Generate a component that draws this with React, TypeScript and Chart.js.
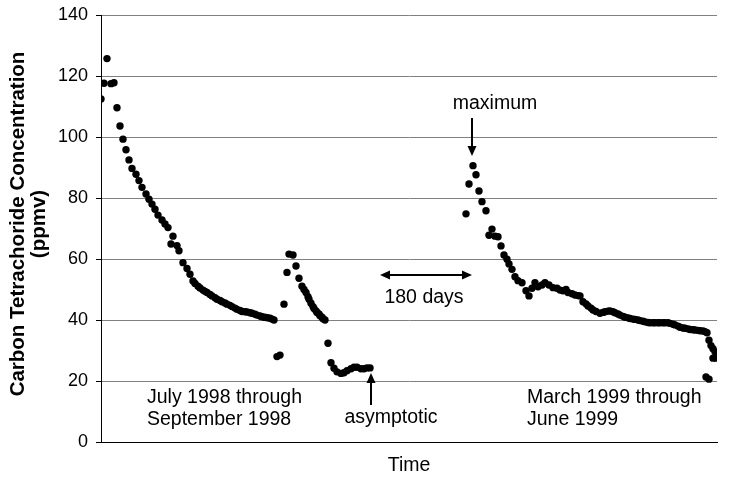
import React, { useEffect, useRef } from "react";
import { Chart, registerables } from "chart.js";

Chart.register(...registerables);

const FONT = "'Liberation Sans', Arial, Helvetica, sans-serif";

// time index (days, relative) and concentration (ppmv)
const seg1T = [0,3,6,10,13,16,19,22,25,28,31,35,38,41,45,48,51,54,57,61,64,67,70,72,76,78,82,86,89,92,94,97,99,102,104,106,109,111,114,116,119,121,124,126,129,131,134,136,139,141,144,146,149,151,154,156,159,161,163,165,167,169,171,173];
const seg1V = [112.5,117.6,125.7,117.5,117.8,109.6,103.6,99.3,95.8,92.5,89.7,87.8,85.7,83.5,81.3,79.6,78.0,76.3,74.4,72.8,71.5,70.3,64.9,67.5,64.4,62.7,58.8,56.9,55.0,52.8,52.0,51.1,50.5,49.8,49.4,49.0,48.4,47.9,47.3,46.8,46.4,46.0,45.6,45.2,44.8,44.4,43.9,43.5,43.1,42.8,42.7,42.6,42.4,42.2,41.9,41.6,41.3,41.1,40.9,40.8,40.7,40.6,40.3,40.0];

const seg2T = [176,179,183,186,188,192,195,198,201,203,205,207,208,210,212,213,215,216,218,219,221,222,224,227,230,233,236,240,243,246,250,253,256,260,263,266,269];
const seg2V = [28.0,28.5,45.2,55.6,61.6,61.3,57.7,53.7,51.1,50.0,49.0,47.6,46.8,45.5,44.4,43.8,43.0,42.5,42.0,41.4,40.9,40.4,40.0,32.4,26.0,24.2,23.0,22.5,22.7,23.4,24.0,24.5,24.5,24.0,24.0,24.3,24.3];

const seg3T = [365,368,372,375,378,381,385,388,391,394,397,400,403,406,408,411,414,417,421,425,428,431,434,437,441,444,448,452,456,459,462,465,467,471,474,477,479,482,485,487,490,492,495,499,502,504,507,509,512,514,517,519,522,524,527,529,532,534,537,539,542,544,547,549,552,554,557,559,562,564,567,569,572,574,577,579,582,584,587,589,592,594,597,599,602,604,606,608,610,612,614];
const seg3V = [74.8,84.6,90.6,87.6,82.3,78.8,75.8,67.8,69.8,67.5,67.3,64.3,61.3,59.9,58.4,56.6,54.2,52.9,52.2,49.6,47.9,50.4,52.2,50.9,51.5,52.2,51.5,50.6,50.4,49.8,49.6,50.0,49.0,48.6,48.2,48.0,47.9,46.0,45.3,44.6,43.9,43.3,42.8,42.2,42.5,42.7,42.9,43.0,42.7,42.4,42.0,41.6,41.2,40.9,40.7,40.5,40.3,40.2,40.0,39.8,39.6,39.4,39.2,39.1,39.1,39.1,39.1,39.1,39.1,39.1,39.1,38.9,38.6,38.4,38.0,37.6,37.4,37.3,37.1,36.9,36.8,36.7,36.6,36.5,36.4,36.2,35.8,33.4,31.6,30.6,29.6];

const seg4T = [605,608,612,615];
const seg4V = [21.3,20.6,27.5,27.5];

const X_MAX = 616;
const Y_MAX = 140;
const Y_STEP = 20;

const yTitle = ["Carbon Tetrachoride Concentration", "(ppmv)"];
const xTitle = "Time";

export default function App() {
  const ref = useRef<HTMLCanvasElement>(null);

  useEffect(() => {
    document.body.style.margin = "0";
    const canvas = ref.current;
    if (!canvas) return;

    const pts = [
      ...seg1T.map((t, i) => ({ x: t, y: seg1V[i] })),
      ...seg2T.map((t, i) => ({ x: t, y: seg2V[i] })),
      ...seg3T.map((t, i) => ({ x: t, y: seg3V[i] })),
      ...seg4T.map((t, i) => ({ x: t, y: seg4V[i] })),
    ];

    const arrowHead = (ctx: CanvasRenderingContext2D, x: number, y: number, ang: number) => {
      const L = 10, W = 4.5;
      ctx.save();
      ctx.translate(x, y);
      ctx.rotate(ang);
      ctx.beginPath();
      ctx.moveTo(0, 0);
      ctx.lineTo(-L, -W);
      ctx.lineTo(-L, W);
      ctx.closePath();
      ctx.fill();
      ctx.restore();
    };

    const annot = {
      id: "annot",
      afterDraw(chart: any) {
        const ctx: CanvasRenderingContext2D = chart.ctx;
        const xs = chart.scales.x, ys = chart.scales.y;
        const px = (v: number) => xs.getPixelForValue(v);
        const py = (v: number) => ys.getPixelForValue(v);
        const ca = chart.chartArea;
        ctx.save();
        ctx.fillStyle = "#000";
        ctx.strokeStyle = "#000";
        ctx.lineWidth = 2;
        ctx.font = `19.5px ${FONT}`;
        ctx.textBaseline = "middle";

        // maximum
        ctx.textAlign = "center";
        ctx.fillText("maximum", px(394), py(111.1));
        let ax = px(371), y1 = py(106.2), y2 = py(93.8);
        ctx.beginPath(); ctx.moveTo(ax, y1); ctx.lineTo(ax, y2 - 8); ctx.stroke();
        arrowHead(ctx, ax, y2, Math.PI / 2);

        // 180 days
        const yd = py(54.75), xl = px(279), xr = px(371);
        ctx.beginPath(); ctx.moveTo(xl + 8, yd); ctx.lineTo(xr - 8, yd); ctx.stroke();
        arrowHead(ctx, xl, yd, Math.PI);
        arrowHead(ctx, xr, yd, 0);
        ctx.fillText("180 days", px(323), py(47.2));

        // asymptotic
        ax = px(270); y1 = py(12.1); y2 = py(22.6);
        ctx.beginPath(); ctx.moveTo(ax, y1); ctx.lineTo(ax, y2 + 8); ctx.stroke();
        arrowHead(ctx, ax, y2, -Math.PI / 2);
        ctx.fillText("asymptotic", px(290), py(7.9));

        // period labels
        ctx.textAlign = "left";
        ctx.fillText("July 1998 through", px(46), py(14.4));
        ctx.fillText("September 1998", px(46), py(7.2));
        ctx.fillText("March 1999 through", px(426), py(14.4));
        ctx.fillText("June 1999", px(426), py(7.2));

        // axis titles
        ctx.textAlign = "center";
        ctx.fillText(xTitle, (ca.left + ca.right) / 2, 466);
        ctx.font = `bold 20.5px ${FONT}`;
        const cy = 224;
        ctx.save();
        ctx.translate(18, cy);
        ctx.rotate(-Math.PI / 2);
        ctx.fillText(yTitle[0], 0, 0);
        ctx.restore();
        ctx.save();
        ctx.translate(39, cy);
        ctx.rotate(-Math.PI / 2);
        ctx.fillText(yTitle[1], 0, 0);
        ctx.restore();
        ctx.restore();
      },
    };

    const chart = new Chart(canvas, {
      type: "scatter",
      data: {
        datasets: [
          {
            data: pts,
            backgroundColor: "#000",
            borderColor: "#000",
            borderWidth: 0,
            pointRadius: 3.7,
            showLine: false,
          },
        ],
      },
      options: {
        animation: false,
        responsive: false,
        devicePixelRatio: 1,
        layout: { padding: { left: 0, right: 28, top: 15, bottom: 0 } },
        plugins: { legend: { display: false }, tooltip: { enabled: false } },
        scales: {
          x: {
            type: "linear",
            min: 0,
            max: X_MAX,
            ticks: { display: false },
            grid: { display: false, drawTicks: false },
            border: { display: true, color: "#000", width: 1 },
            afterFit: (s: any) => { s.height = 45; },
          },
          y: {
            min: 0,
            max: Y_MAX,
            ticks: {
              stepSize: Y_STEP,
              color: "#000",
              padding: 8,
              font: { family: FONT, size: 18, lineHeight: 0.7 },
            },
            grid: {
              color: (c: any) => (c.tick && c.tick.value === 0 ? "#000" : "#808080"),
              lineWidth: 1,
              tickLength: 5,
              tickColor: "#000",
            },
            border: { display: true, color: "#000", width: 1 },
            afterFit: (s: any) => { s.width = 101; },
          },
        },
      },
      plugins: [annot],
    });
    return () => chart.destroy();
  }, []);

  return (
    <canvas
      ref={ref}
      width={745}
      height={487}
      style={{ display: "block", width: 745, height: 487 }}
    />
  );
}
